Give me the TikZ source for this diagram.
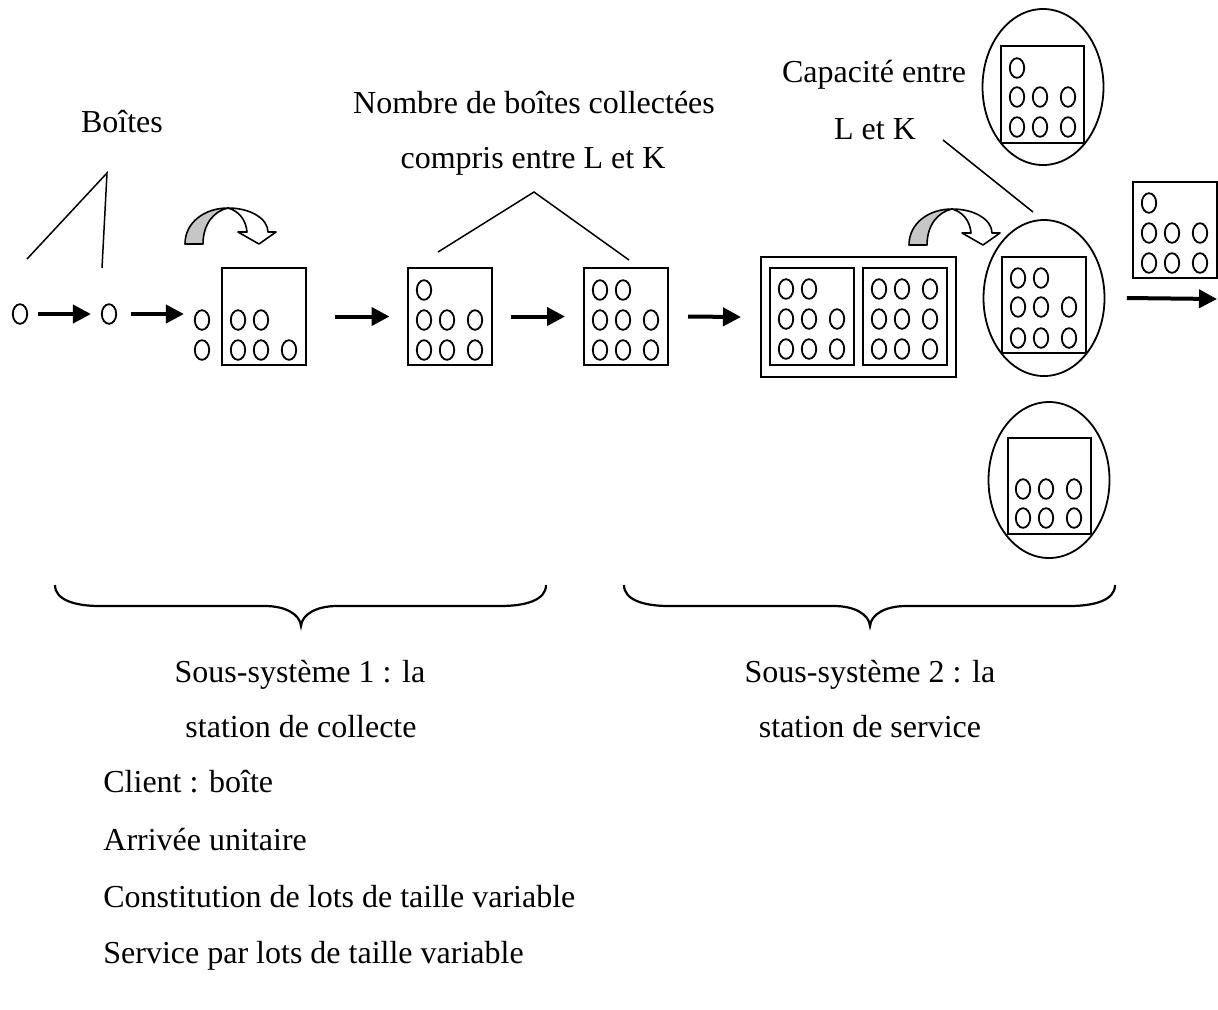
\documentclass[tikz,border=0pt]{standalone}
\usepackage{fontspec}
\setmainfont{Liberation Serif}
\usetikzlibrary{arrows.meta,shapes.geometric}
\newcommand\dotsin[2]{\begin{scope}[shift={#1}]\foreach \u/\v in {#2}{\draw[dotline] (\u,\v) ellipse [x radius=3.6pt, y radius=4.9pt];}\end{scope}}
\newcommand\turnarrow[1]{\begin{scope}[shift={#1}]
\draw[line width=0.8pt, fill=white, line join=round] (43,-36) .. controls (66,-36) and (83,-25) .. (83,-12) -- (91,-12) -- (74,0) -- (53,-12) -- (62,-12) .. controls (61,-24) and (54,-33) .. (43,-36) -- cycle;
\draw[line width=0.8pt, fill=gray!45, line join=round] (0,0) .. controls (0,-22) and (20,-36) .. (43,-36) .. controls (29,-33) and (18,-20) .. (18,0) -- cycle;
\end{scope}}
\newcommand\bracepath[1]{\begin{scope}[shift={#1}]
\draw[bracestyle] (55,585) .. controls (55,600) and (75,606) .. (100,606) -- (265,606) .. controls (285,606) and (300,614) .. (301,626) .. controls (302,614) and (317,606) .. (337,606) -- (500,606) .. controls (526,606) and (546,600) .. (546,585);
\end{scope}}
\begin{document}
\begin{tikzpicture}[x=0.5pt,y=-0.5pt,
  font=\fontsize{16}{19}\selectfont,
  box/.style={draw, line width=1pt, rectangle, inner sep=0, minimum width=42pt, minimum height=48.5pt},
  bigoval/.style={draw, ellipse, line width=0.9pt, inner sep=0, minimum width=60.5pt, minimum height=78pt},
  dot/.style={draw, ellipse, line width=0.9pt, inner sep=0, minimum width=7.2pt, minimum height=9.8pt},
  dotline/.style={line width=0.9pt},
  flow/.style={line width=2pt, -{Triangle[length=9pt,width=9pt]}},
  leader/.style={line width=0.75pt},
  bracestyle/.style={line width=1.1pt},
  lbl/.style={anchor=base, inner sep=0},
  lblw/.style={anchor=base west, inner sep=0}]
\useasboundingbox (0,0) rectangle (1218,1009);

% texts
\node[lbl] (boites) at (122,132) {Boîtes};
\node[lbl] (nb1) at (534,113) {Nombre de boîtes collectées};
\node[lbl] (nb2) at (533,168) {compris entre L et K};
\node[lbl] (cap1) at (874,82) {Capacité entre};
\node[lbl] (cap2) at (875,139) {L et K};
\node[lbl] (ss1a) at (300,682) {Sous-système 1 : la};
\node[lbl] (ss1b) at (301,737) {station de collecte};
\node[lbl] (ss2a) at (870,682) {Sous-système 2 : la};
\node[lbl] (ss2b) at (870,737) {station de service};
\node[lblw] (t1) at (103,792) {Client : boîte};
\node[lblw] (t2) at (103,850) {Arrivée unitaire};
\node[lblw] (t3) at (103,907) {Constitution de lots de taille variable};
\node[lblw] (t4) at (103,963) {Service par lots de taille variable};

% leader lines
\coordinate (bl1) at (27,259); \coordinate (bl2) at (107,173); \coordinate (bl3) at (102,268);
\draw[leader] (bl1) -- (bl2) -- (bl3);
\coordinate (nl1) at (438,252); \coordinate (nl2) at (534,192); \coordinate (nl3) at (629,260);
\draw[leader] (nl1) -- (nl2) -- (nl3);
\coordinate (cl1) at (943,140); \coordinate (cl2) at (1033,212);
\draw[leader] (cl1) -- (cl2);

% single boxes
\node[dot] (d1) at (20,314) {};
\node[dot] (d2) at (109,314) {};
\node[dot] (d3a) at (202,320) {};
\node[dot] (d3b) at (202,350) {};

% boxes
\node[box] (b1) at (264,316.5) {};
\dotsin{(222,268)}{16/52,39/52,16/82,39/82,67/82}
\node[box] (b2) at (449.5,316.5) {};
\dotsin{(407,268)}{17/22,17/52,40/52,68/52,17/82,40/82,68/82}
\node[box] (b3) at (626,316.5) {};
\dotsin{(584,268)}{16/22,39/22,16/52,39/52,67/52,16/82,39/82,67/82}

\node[box, minimum width=97.5pt, minimum height=60pt] (big) at (858.5,317) {};
\node[box] (bA) at (812,316.5) {};
\dotsin{(770,268)}{16/21,39/21,16/51,39/51,67/51,16/81,39/81,67/81}
\node[box] (bB) at (905,316.5) {};
\dotsin{(863,268)}{16/21,39/21,67/21,16/51,39/51,67/51,16/81,39/81,67/81}

% ovals
\node[bigoval] (e1) at (1043,87) {};
\node[box, minimum width=41.5pt] (bt) at (1042.5,94.5) {};
\dotsin{(1001,46)}{16/22,16/51,39/51,67/51,16/81,39/81,67/81}

\node[bigoval] (e2) at (1044,298) {};
\node[box, minimum height=48pt] (bm) at (1044,305) {};
\dotsin{(1002,257)}{16/21,39/21,16/50,39/50,67/50,16/81,39/81,67/81}

\node[bigoval] (e3) at (1049,480) {};
\node[box, minimum width=41.5pt, minimum height=48pt] (bl) at (1049.5,486) {};
\dotsin{(1008,438)}{15/51,38/51,66/51,15/80,38/80,66/80}

% output box
\node[box, minimum height=48pt] (bo) at (1174.5,230) {};
\dotsin{(1133,182)}{16/21,16/51,39/51,67/51,16/81,39/81,67/81}

% flow arrows
\draw[flow] ([xshift=5pt]d1.east) -- ([xshift=-5pt]d2.west);
\draw[flow] ([xshift=7pt]d2.east) -- ([xshift=-5pt]d2.east -| d3a.west);
\draw[flow] ([xshift=14pt]b1.east) -- ([xshift=-8.5pt]b2.west);
\draw[flow] ([xshift=9pt]b2.east) -- ([xshift=-9pt]b3.west);
\draw[flow] ([xshift=9.5pt]b3.east) -- ([xshift=-9.5pt]big.west);
\coordinate (out) at (1217,299);
\draw[flow] ([xshift=10.75pt]e2.east) -- (out);

% curved arrows
\turnarrow{(185,244)}
\turnarrow{(909,245)}

% braces
\bracepath{(0,0)}
\bracepath{(569,0)}
\end{tikzpicture}
\end{document}
